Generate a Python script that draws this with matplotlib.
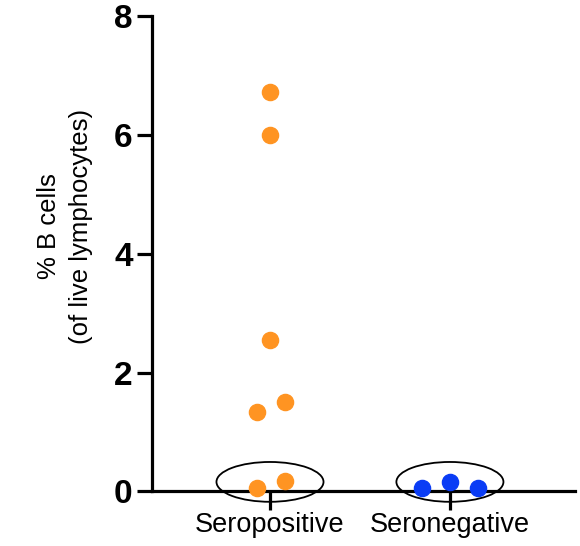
import matplotlib.pyplot as plt
from matplotlib.patches import Ellipse

plt.rcParams['font.family'] = ['Liberation Sans', 'DejaVu Sans']

# values
groups = ["Seropositive", "Seronegative"]
pos_x = [0, 0, 0, -0.072, 0.083, -0.072, 0.083]
pos_y = [6.72, 6.0, 2.55, 1.33, 1.50, 0.05, 0.18]
neg_x = [0.845, 1.0, 1.155]
neg_y = [0.05, 0.16, 0.05]
ring_y = 0.16

fig = plt.figure(figsize=(5.8, 5.46), dpi=100)
ax = fig.add_axes([0.262, 0.1, 0.729, 0.871])

ax.scatter(pos_x, pos_y, s=135, color="#FF9422", zorder=3, clip_on=False)
ax.scatter(neg_x, neg_y, s=135, color="#0A3CF5", zorder=3, clip_on=False)

# rings around the low values
for i in range(len(groups)):
    ax.add_patch(Ellipse((i, ring_y), 0.595, 0.67, fill=False, edgecolor="black",
                         linewidth=1.3, zorder=4, clip_on=False))

ax.set_xlim(-0.656, 1.694)
ax.set_ylim(0, 8)
ax.set_yticks([0, 2, 4, 6, 8])
ax.set_xticks(range(len(groups)))
ax.set_xticklabels(groups, fontsize=19.5)
for lab in ax.get_yticklabels():
    lab.set_fontweight("bold")
    lab.set_fontsize(24)

ax.spines["top"].set_visible(False)
ax.spines["right"].set_visible(False)
ax.spines["left"].set_linewidth(2.3)
ax.spines["bottom"].set_linewidth(2.3)
ax.tick_params(axis="y", length=11, width=2.3, pad=3)
ax.tick_params(axis="x", length=14, width=2.3, pad=1)

ax.set_ylabel("% B cells\n(of live lymphocytes)", fontsize=18.5, linespacing=1.4)
ax.yaxis.set_label_coords(-0.14, 0.557)

fig.savefig("out.png", dpi=100)
